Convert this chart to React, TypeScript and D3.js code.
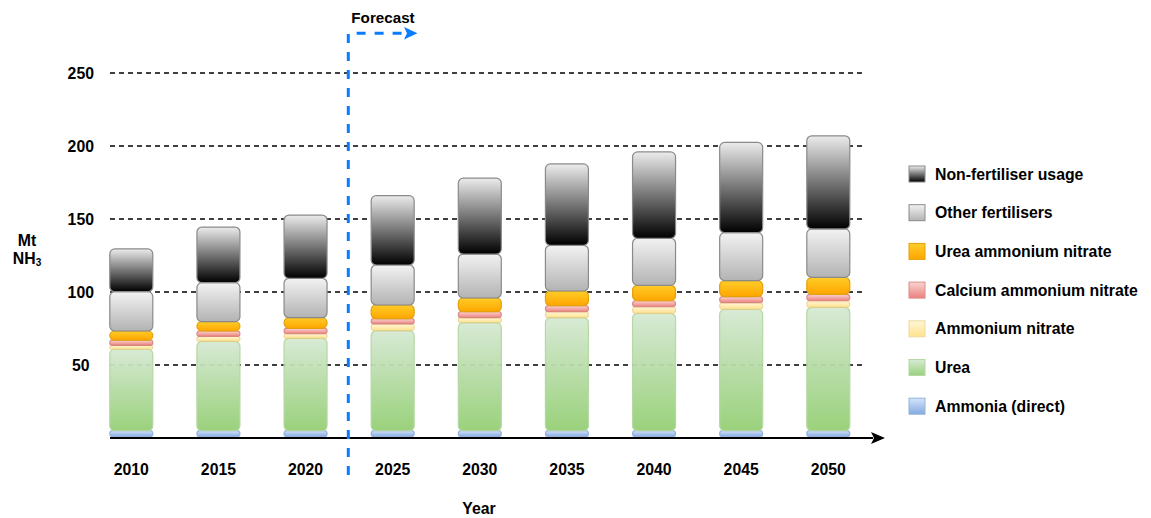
import React from 'react';
import * as d3 from 'd3';

const years = ['2010', '2015', '2020', '2025', '2030', '2035', '2040', '2045', '2050'];
const ammoniaDirect = [5, 5, 5, 5, 5, 5, 5, 5, 5];
const urea = [55.8, 61.2, 63.3, 68.5, 74, 77.4, 80.4, 83.1, 84.5];
const ammoniumNitrate = [2.7, 3.4, 3.1, 4.6, 3.4, 4.1, 4.5, 4.6, 4.5];
const calciumAmmoniumNitrate = [3.5, 3.7, 3.7, 3.6, 4.1, 4.1, 4.1, 4.1, 4.4];
const ureaAmmoniumNitrate = [6.3, 6.4, 7.3, 9.4, 9.4, 10.1, 10.6, 11, 11.6];
const otherFertilisers = [26.9, 26.7, 27, 27.4, 30.1, 31.3, 32.2, 32.8, 33.2];
const nonFertiliserUsage = [29.3, 38.1, 43.3, 47.5, 52, 55.7, 59.2, 61.9, 63.8];
const yTicks = [50, 100, 150, 200, 250];

const seriesNames = [
  'Ammonia (direct)',
  'Urea',
  'Ammonium nitrate',
  'Calcium ammonium nitrate',
  'Urea ammonium nitrate',
  'Other fertilisers',
  'Non-fertiliser usage',
];
const seriesValues = [
  ammoniaDirect,
  urea,
  ammoniumNitrate,
  calciumAmmoniumNitrate,
  ureaAmmoniumNitrate,
  otherFertilisers,
  nonFertiliserUsage,
];
const seriesStyles = [
  { top: '#d4e3fa', bottom: '#7ea6e0', stroke: '#8fb0dc', opacity: 0.95 },
  { top: '#d6e9d3', bottom: '#95cf75', stroke: '#b2d6a0', opacity: 0.95 },
  { top: '#fff4cc', bottom: '#ffd966', stroke: '#e8cc80', opacity: 0.75 },
  { top: '#f8cecc', bottom: '#ea6b66', stroke: '#d47a76', opacity: 0.85 },
  { top: '#ffcd28', bottom: '#ffa500', stroke: '#e3a20a', opacity: 1 },
  { top: '#f2f2f2', bottom: '#b3b3b3', stroke: '#8a8a8a', opacity: 1 },
  { top: '#ececec', bottom: '#000000', stroke: '#8a8a8a', opacity: 1 },
];

const FONT = '"Liberation Sans", Arial, Helvetica, sans-serif';
const FS = 15.8;

export default function App() {
  const width = 1151;
  const height = 518;
  const y = d3.scaleLinear().domain([0, 250]).range([438, 73]);
  const x = d3.scalePoint<string>().domain(years).range([131.3, 828.3]);
  const barW = 43;

  const stackData = years.map((yr, i) => {
    const row: Record<string, number | string> = { year: yr };
    seriesNames.forEach((n, k) => (row[n] = seriesValues[k][i]));
    return row;
  });
  const stack = d3.stack<any>().keys(seriesNames)(stackData as any);

  const legendOrder = [...seriesNames.map((n, k) => k)].reverse();
  const forecastX = 348.3;

  return (
    <svg
      width={width}
      height={height}
      style={{ position: 'absolute', left: 0, top: 0, background: '#fff' }}
      fontFamily={FONT}
    >
      <defs>
        {seriesStyles.map((s, k) => (
          <linearGradient key={k} id={`g${k}`} x1="0" y1="0" x2="0" y2="1">
            <stop offset="0%" stopColor={s.top} />
            <stop offset="100%" stopColor={s.bottom} />
          </linearGradient>
        ))}
      </defs>

      {/* gridlines */}
      {yTicks.map((t) => (
        <g key={t}>
          <line x1={110} x2={865} y1={y(t)} y2={y(t)} stroke="#000" strokeWidth={1.4} strokeDasharray="5,4" />
          <text x={80.8} y={y(t)} textAnchor="middle" dominantBaseline="central" fontSize={FS} fontWeight="bold" fill="#000">
            {t}
          </text>
        </g>
      ))}

      {/* bars */}
      {stack.map((layer, k) => (
        <g key={k} opacity={seriesStyles[k].opacity}>
          {layer.map((d, i) => {
            const y0 = k === 0 ? y(d[0]) - 1.3 : y(d[0]);
            const y1 = y(d[1]);
            const h = Math.max(0, y0 - y1);
            const r = Math.min(5, h / 2);
            return (
              <rect
                key={i}
                x={(x(years[i]) as number) - barW / 2}
                y={y1}
                width={barW}
                height={h}
                rx={r}
                ry={r}
                fill={`url(#g${k})`}
                stroke={seriesStyles[k].stroke}
                strokeWidth={1.2}
              />
            );
          })}
        </g>
      ))}

      {/* x axis */}
      <line x1={110} x2={873} y1={438} y2={438} stroke="#000" strokeWidth={2} />
      <path d="M885,438 L871,432 L874,438 L871,444 Z" fill="#000" />
      {years.map((yr) => (
        <text key={yr} x={x(yr)} y={469} textAnchor="middle" dominantBaseline="central" fontSize={FS} fontWeight="bold" fill="#000">
          {yr}
        </text>
      ))}
      <text x={479} y={508} textAnchor="middle" dominantBaseline="central" fontSize={FS} fontWeight="bold" fill="#000">
        Year
      </text>

      {/* y label */}
      <text x={27} y={240} textAnchor="middle" dominantBaseline="central" fontSize={FS} fontWeight="bold" fill="#000">
        Mt
      </text>
      <text x={27} y={258} textAnchor="middle" dominantBaseline="central" fontSize={FS} fontWeight="bold" fill="#000">
        NH<tspan fontSize={10} dy={4}>3</tspan>
      </text>

      {/* forecast */}
      <path
        d={`M${forecastX},475 L${forecastX},33.3 L405,33.3`}
        fill="none"
        stroke="#0a7cff"
        strokeWidth={3}
        strokeDasharray="9,9"
      />
      <path d="M417.5,33.3 L404,27 L407,33.3 L404,39.6 Z" fill="#0a7cff" />
      <text x={383} y={17.3} textAnchor="middle" dominantBaseline="central" fontSize={15.2} fontWeight="bold" fill="#000">
        Forecast
      </text>

      {/* legend */}
      {legendOrder.map((k, j) => {
        const cy = 174 + j * 38.7;
        return (
          <g key={k}>
            <rect x={909} y={cy - 8} width={16} height={16} fill={`url(#g${k})`} stroke={seriesStyles[k].stroke} strokeWidth={1} opacity={seriesStyles[k].opacity} />
            <text x={935} y={cy} dominantBaseline="central" fontSize={FS} fontWeight="bold" fill="#000">
              {seriesNames[k]}
            </text>
          </g>
        );
      })}
    </svg>
  );
}
